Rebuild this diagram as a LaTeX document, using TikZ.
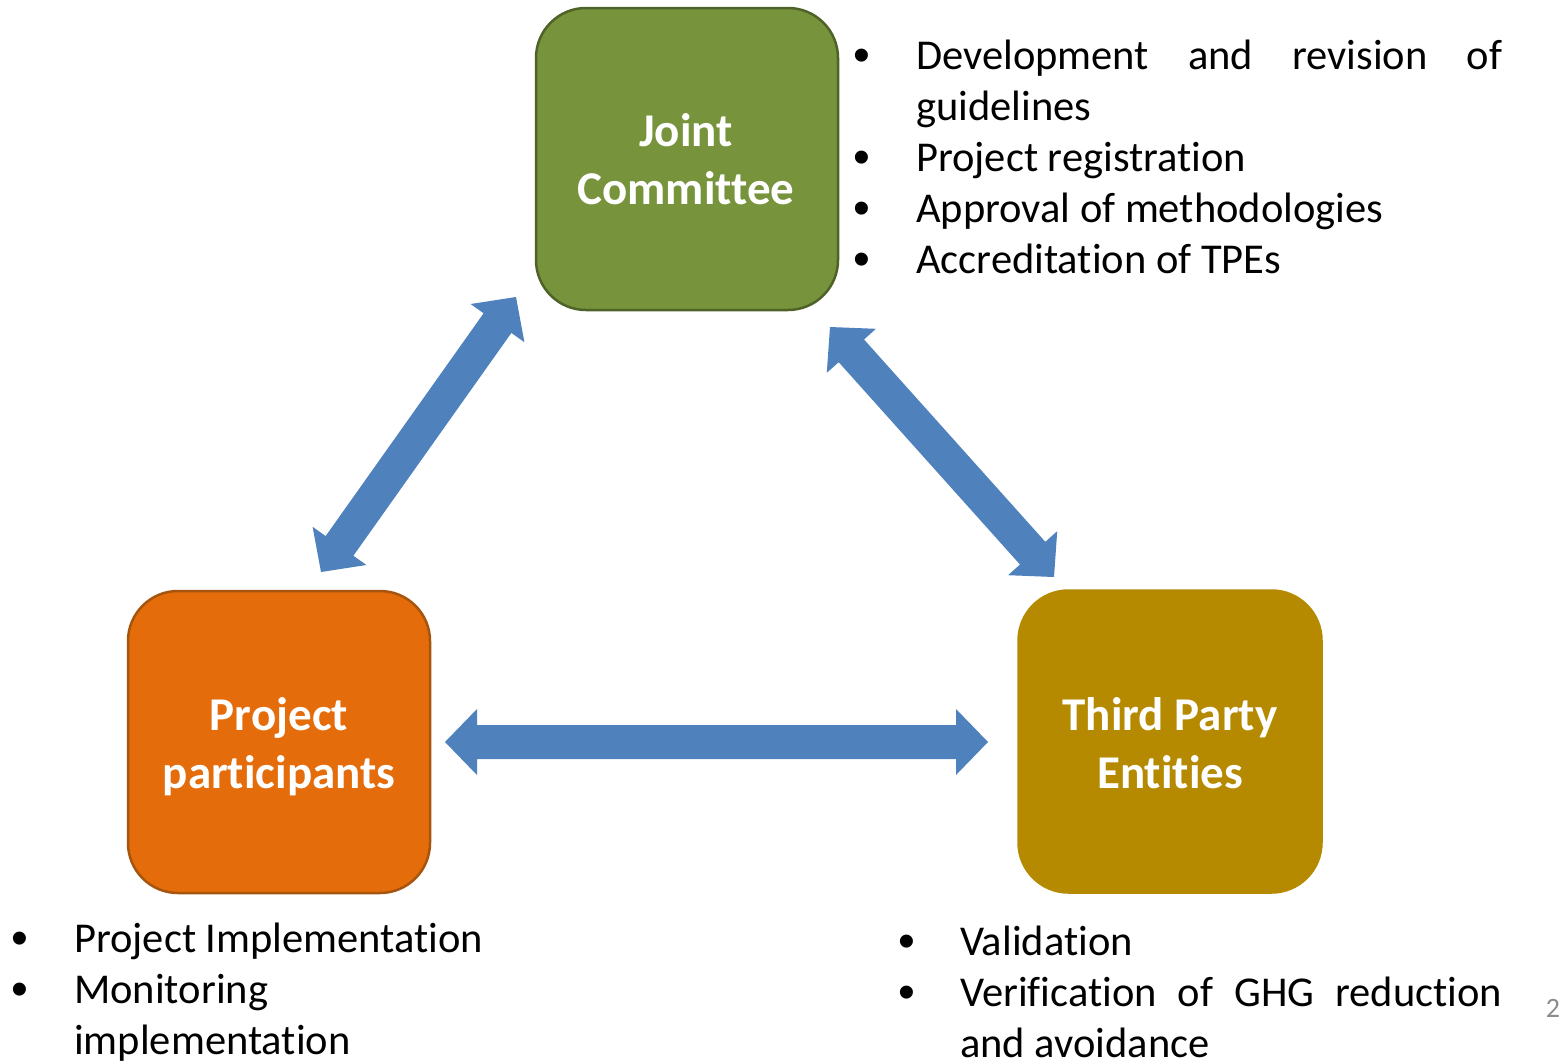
\documentclass[tikz,border=0pt]{standalone}
\usepackage{fontspec}
\setmainfont{Carlito}[Ligatures={NoCommon,NoContextual}]
\newfontfamily\bulletfont{Liberation Sans}
\usetikzlibrary{calc}
\definecolor{jcfill}{HTML}{77933C}
\definecolor{jcdraw}{HTML}{4F6228}
\definecolor{ppfill}{HTML}{E46C0A}
\definecolor{ppdraw}{HTML}{A5550E}
\definecolor{tpefill}{HTML}{B58A00}
\definecolor{arrowcol}{HTML}{4F81BD}
\definecolor{pagegray}{HTML}{8C8C8C}
\newcommand\dblblockarrow[2]{%
  \fill[arrowcol] (#1)
   -- ($(#1)!32pt!(#2)!33pt!90:(#2)$)
   -- ($(#1)!32pt!(#2)!17pt!90:(#2)$)
   -- ($(#2)!32pt!(#1)!17pt!-90:(#1)$)
   -- ($(#2)!32pt!(#1)!33pt!-90:(#1)$)
   -- (#2)
   -- ($(#2)!32pt!(#1)!33pt!90:(#1)$)
   -- ($(#2)!32pt!(#1)!17pt!90:(#1)$)
   -- ($(#1)!32pt!(#2)!17pt!-90:(#2)$)
   -- ($(#1)!32pt!(#2)!33pt!-90:(#2)$)
   -- cycle;}
\tikzset{
  box/.style={rectangle, rounded corners=50pt, minimum width=302pt, minimum height=302pt, inner sep=0pt, line width=2.5pt},
  boxlabel/.style={anchor=base, inner sep=0pt, text=white, font=\fontsize{47}{58}\selectfont\bfseries},
  listtext/.style={anchor=base west, inner sep=0pt, font=\fontsize{42.5}{51}\selectfont},
  bulletmark/.style={anchor=base, inner sep=0pt, yshift=-2pt, font=\bulletfont\fontsize{48}{51}\selectfont},
  pagenum/.style={anchor=center, inner sep=0pt, text=pagegray, font=\fontsize{28}{34}\selectfont}
}
\begin{document}
\begin{tikzpicture}[x=1pt,y=-1pt]
\useasboundingbox (0,0) rectangle (1568,1063);
\fill[white] (0,0) rectangle (1568,1063);

% boxes
\node[box, fill=jcfill, draw=jcdraw] (jc) at (687,159) {};
\node[box, fill=ppfill, draw=ppdraw] (pp) at (279,742) {};
\node[box, fill=tpefill, draw=tpefill, minimum width=303pt, minimum height=302pt] (tpe) at (1170,741.5) {};

\node[boxlabel] (jcl1) at (686,146) {Joint};
\node[boxlabel] (jcl2) at (686,204) {Committee};
\node[boxlabel] (ppl1) at (279,730) {Project};
\node[boxlabel] (ppl2) at (279,788) {participants};
\node[boxlabel] (tpel1) at (1170,730) {Third Party};
\node[boxlabel] (tpel2) at (1170,788) {Entities};

% block arrows
\coordinate (hL) at (445,742);
\coordinate (hR) at (988,742);
\coordinate (lA) at (321,572);
\coordinate (lB) at (516,297);
\coordinate (rA) at (830,327);
\coordinate (rB) at (1054,577);
\dblblockarrow{hL}{hR}
\dblblockarrow{lA}{lB}
\dblblockarrow{rA}{rB}

% Joint Committee list
\node[bulletmark] (jb1) at (862,69) {•};
\node[listtext] (jt1) at (916,69) {\makebox[586pt][s]{Development and revision of}};
\node[listtext] (jt1b) at (916,120) {guidelines};
\node[bulletmark] (jb2) at (862,171) {•};
\node[listtext] (jt2) at (916,171) {Project registration};
\node[bulletmark] (jb3) at (862,222) {•};
\node[listtext] (jt3) at (916,222) {Approval of methodologies};
\node[bulletmark] (jb4) at (862,273) {•};
\node[listtext] (jt4) at (916,273) {Accreditation of TPEs};

% Project participants list
\node[bulletmark] (pb1) at (20,952) {•};
\node[listtext] (pt1) at (74,952) {Project Implementation};
\node[bulletmark] (pb2) at (20,1003) {•};
\node[listtext] (pt2) at (74,1003) {Monitoring};
\node[listtext] (pt2b) at (74,1054) {implementation};

% Third Party Entities list
\node[bulletmark] (tb1) at (907,955) {•};
\node[listtext] (tt1) at (960,955) {Validation};
\node[bulletmark] (tb2) at (907,1006) {•};
\node[listtext] (tt2) at (960,1006) {\makebox[542pt][s]{Verification of GHG reduction}};
\node[listtext] (tt2b) at (960,1057) {and avoidance};

% page number
\node[pagenum] (page) at (1553,1008) {2};
\end{tikzpicture}
\end{document}
